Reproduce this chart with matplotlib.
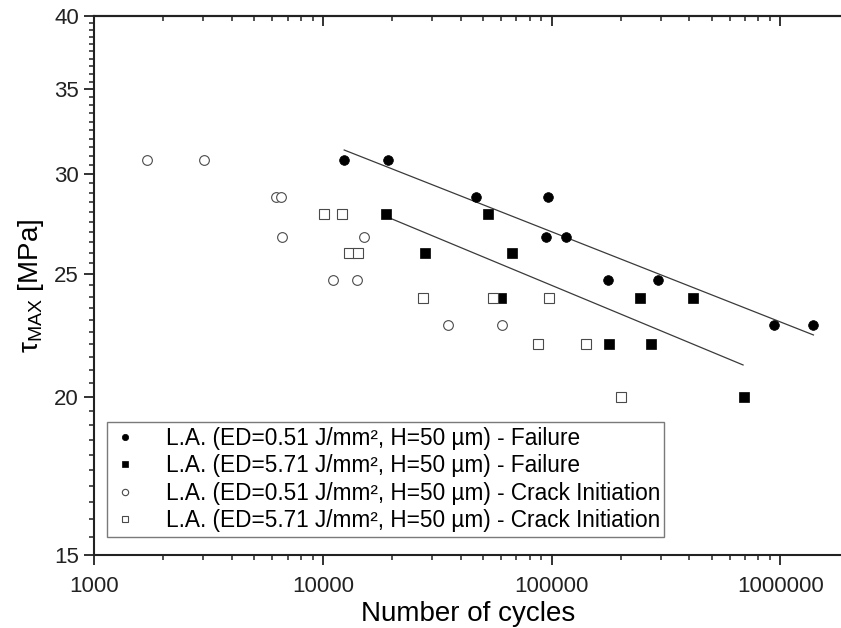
import numpy as np
import matplotlib
matplotlib.use('Agg')
import matplotlib.pyplot as plt
from matplotlib.ticker import FixedLocator, LogLocator, FuncFormatter, NullFormatter

plt.rcParams['font.family'] = ['Liberation Sans', 'DejaVu Sans']
plt.rcParams['mathtext.fontset'] = 'custom'
plt.rcParams['mathtext.rm'] = 'Liberation Sans'
plt.rcParams['mathtext.it'] = 'Liberation Sans'

# ED=0.51 J/mm2 - failure
fail_051_n = [12340, 19160, 46800, 96400, 94200, 115000, 176000, 293000, 935000, 1394000]
fail_051_t = [30.75, 30.75, 28.75, 28.75, 26.75, 26.75, 24.75, 24.75, 22.8, 22.8]
# ED=5.71 J/mm2 - failure
fail_571_n = [18800, 52800, 28000, 66900, 59900, 243000, 414000, 178000, 273000, 691000]
fail_571_t = [27.9, 27.9, 26.0, 26.0, 23.95, 23.95, 23.95, 22.0, 22.0, 20.0]
# ED=0.51 J/mm2 - crack initiation
crack_051_n = [1704, 3016, 6206, 6528, 6634, 15094, 11081, 14109, 35262, 60340]
crack_051_t = [30.75, 30.75, 28.75, 28.75, 26.75, 26.75, 24.75, 24.75, 22.8, 22.8]
# ED=5.71 J/mm2 - crack initiation
crack_571_n = [10060, 12130, 13000, 14170, 27400, 55600, 97400, 87000, 141000, 201000]
crack_571_t = [27.9, 27.9, 26.0, 26.0, 23.95, 23.95, 23.95, 22.0, 22.0, 20.0]

# fitted lines (end points)
fit_051_n = [12380, 1394000]
fit_051_t = [31.34, 22.38]
fit_571_n = [18840, 686400]
fit_571_t = [27.77, 21.19]

labels = ['L.A. (ED=0.51 J/mm², H=50 µm) - Failure',
          'L.A. (ED=5.71 J/mm², H=50 µm) - Failure',
          'L.A. (ED=0.51 J/mm², H=50 µm) - Crack Initiation',
          'L.A. (ED=5.71 J/mm², H=50 µm) - Crack Initiation']

fig = plt.figure(figsize=(8.41, 6.28), dpi=100)
ax = fig.add_axes([0.1121, 0.1167, 0.8879, 0.8578])

ax.plot(fit_051_n, fit_051_t, color='#3a3a3a', lw=0.9, zorder=2)
ax.plot(fit_571_n, fit_571_t, color='#3a3a3a', lw=0.9, zorder=2)

ax.plot(fail_051_n, fail_051_t, 'o', color='black', ms=7, mew=0.5, label=labels[0], zorder=3)
ax.plot(fail_571_n, fail_571_t, 's', color='black', ms=6.5, mew=0.5, label=labels[1], zorder=3)
ax.plot(crack_051_n, crack_051_t, 'o', mfc='white', mec='#4a4a4a', ms=7, mew=0.8, label=labels[2], zorder=3)
ax.plot(crack_571_n, crack_571_t, 's', mfc='white', mec='#4a4a4a', ms=6.5, mew=0.8, label=labels[3], zorder=3)

ax.set_xscale('log')
ax.set_yscale('log')
ax.set_xlim(1000, 1.84e6)
ax.set_ylim(15, 40)

ax.xaxis.set_major_locator(FixedLocator([1e3, 1e4, 1e5, 1e6]))
ax.xaxis.set_minor_locator(LogLocator(base=10, subs=np.arange(2, 10), numticks=20))
ax.xaxis.set_major_formatter(FuncFormatter(lambda v, p: '%d' % round(v)))
ax.xaxis.set_minor_formatter(NullFormatter())

ax.yaxis.set_major_locator(FixedLocator([15, 20, 25, 30, 35, 40]))
ax.yaxis.set_minor_locator(FixedLocator(np.arange(15, 40.01, 0.5)))
ax.yaxis.set_major_formatter(FuncFormatter(lambda v, p: '%d' % round(v)))
ax.yaxis.set_minor_formatter(NullFormatter())

ax.spines['right'].set_visible(False)
for s in ['left', 'bottom', 'top']:
    ax.spines[s].set_linewidth(1.5)
    ax.spines[s].set_color('#222222')

ax.tick_params(axis='both', which='major', direction='out', length=7, width=1.3, labelsize=16, colors='#222222')
ax.tick_params(axis='both', which='minor', direction='out', length=3.5, width=1.1, colors='#222222')
ax.tick_params(axis='x', which='major', pad=8)
ax.tick_params(axis='y', which='major', pad=4)

# top axis: inward ticks, no labels
top = ax.secondary_xaxis('top')
top.xaxis.set_major_locator(FixedLocator([1e3, 1e4, 1e5, 1e6]))
top.xaxis.set_minor_locator(LogLocator(base=10, subs=np.arange(2, 10), numticks=20))
top.xaxis.set_major_formatter(NullFormatter())
top.xaxis.set_minor_formatter(NullFormatter())
top.spines['top'].set_linewidth(1.5)
top.spines['top'].set_color('#222222')
top.tick_params(which='major', direction='in', length=7, width=1.3, colors='#222222')
top.tick_params(which='minor', direction='in', length=3.5, width=1.1, colors='#222222')

ax.set_xlabel('Number of cycles', fontsize=20, labelpad=3)
ax.set_ylabel(r'τ$_{\mathrm{MAX}}$ [MPa]', fontsize=20, labelpad=6)

leg = ax.legend(loc='lower left', bbox_to_anchor=(0.0166, 0.0334), borderaxespad=0,
                fontsize=16.3, markerscale=0.65, handlelength=1.2, handletextpad=1.2,
                labelspacing=0.2, borderpad=0.2, fancybox=False, framealpha=1,
                edgecolor='#7a7a7a', numpoints=1)
leg.get_frame().set_linewidth(1.0)

fig.savefig('out.png', dpi=100)
